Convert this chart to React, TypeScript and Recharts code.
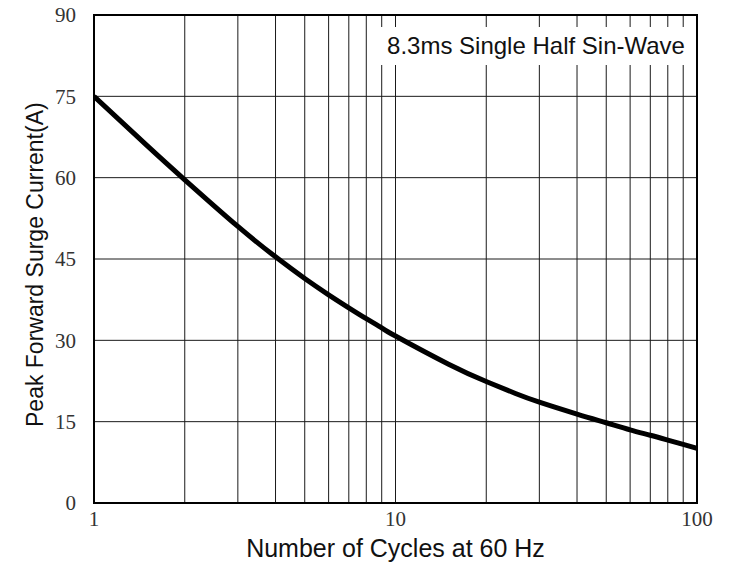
import React from 'react'
import { LineChart, Line, XAxis, YAxis, CartesianGrid, ReferenceArea } from 'recharts'

// cycles at 60 Hz (log axis) and peak surge current
const cycles = [1, 1.5, 2, 3, 4, 5, 6, 7, 8, 9, 10, 15, 20, 25, 30, 40, 50, 60, 70, 80, 90, 100]
const current = [75, 65.9, 59.6, 51.0, 45.4, 41.4, 38.4, 36.0, 34.0, 32.3, 30.8, 25.6, 22.4, 20.2, 18.6, 16.4, 14.8, 13.5, 12.5, 11.6, 10.8, 10.1]

const xGridTicks = [1, 2, 3, 4, 5, 6, 7, 8, 9, 10, 20, 30, 40, 50, 60, 70, 80, 90, 100]
const xLabelTicks = [1, 10, 100]
const yTicks = [0, 15, 30, 45, 60, 75, 90]

const data = cycles.map((c, i) => ({ cycles: c, current: current[i] }))

const serif = '"Liberation Serif", "DejaVu Serif", serif'
const sans = '"Liberation Sans", Arial, sans-serif'

export default function App() {
  return (
    <div style={{ position: 'absolute', left: 0, top: 0, background: '#fff' }}>
      <LineChart width={729} height={574} data={data} margin={{ top: 15, right: 32, left: 34, bottom: 21 }}>
        <CartesianGrid stroke="#1a1a1a" strokeWidth={1} />
        <XAxis
          dataKey="cycles"
          type="number"
          scale="log"
          domain={[1, 100]}
          ticks={xGridTicks}
          tickFormatter={(v: number) => (xLabelTicks.includes(v) ? String(v) : '')}
          interval={0}
          allowDataOverflow
          height={50}
          tickLine={false}
          tickSize={4}
          tickMargin={4}
          axisLine={{ stroke: '#000', strokeWidth: 2 }}
          tick={{ fontSize: 21, fill: '#333', fontFamily: serif }}
          label={{ value: 'Number of Cycles at 60 Hz', position: 'insideBottom', offset: -4, fontSize: 25, fill: '#111', fontFamily: sans }}
        />
        <YAxis
          type="number"
          domain={[0, 90]}
          ticks={yTicks}
          interval={0}
          width={60}
          tickLine={false}
          tickSize={6}
          tickMargin={12}
          axisLine={{ stroke: '#000', strokeWidth: 2 }}
          tick={{ fontSize: 21, fill: '#333', fontFamily: serif }}
          label={{ value: 'Peak Forward Surge Current(A)', angle: -90, position: 'insideLeft', offset: 1, dy: 168, fontSize: 23, fill: '#111', fontFamily: sans }}
        />
        <ReferenceArea
          x1={8.55}
          x2={100}
          y1={80.8}
          y2={87.8}
          fill="#fff"
          fillOpacity={1}
          stroke="none"
          label={{ value: '8.3ms Single Half Sin-Wave', position: 'center', fontSize: 24, fill: '#111', fontFamily: sans }}
        />
        <ReferenceArea x1={1} x2={100} y1={0} y2={90} fill="none" stroke="#000" strokeWidth={2} />
        <Line
          dataKey="current"
          type="natural"
          stroke="#000"
          strokeWidth={5}
          dot={false}
          isAnimationActive={false}
        />
      </LineChart>
    </div>
  )
}
